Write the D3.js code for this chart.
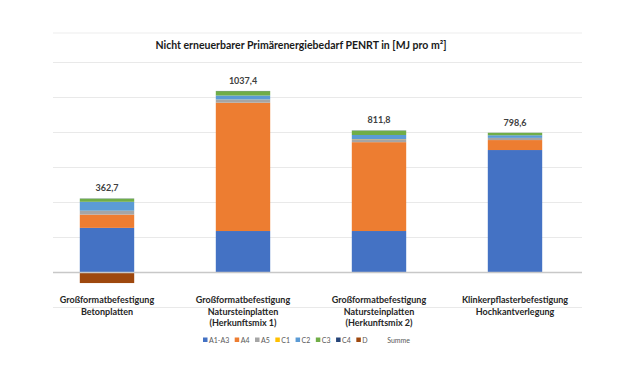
<!DOCTYPE html>
<html><head><meta charset="utf-8">
<script src="https://cdn.jsdelivr.net/npm/d3@7"></script>
<style>
body{margin:0;background:#fff;}
svg{display:block;font-family:Lato,"Open Sans",sans-serif;}
</style></head>
<body><svg id="c" width="635" height="386"></svg>
<script>
const categories = [
  ["Großformatbefestigung","Betonplatten"],
  ["Großformatbefestigung","Natursteinplatten","(Herkunftsmix 1)"],
  ["Großformatbefestigung","Natursteinplatten","(Herkunftsmix 2)"],
  ["Klinkerpflasterbefestigung","Hochkantverlegung"]
];
const seriesNames = ["A1-A3","A4","A5","C1","C2","C3","C4","D"];
const seriesColors = ["#4472C4","#ED7D31","#A5A5A5","#FFC000","#5B9BD5","#70AD47","#264478","#9E480E"];
const A1A3 = [255, 237, 237, 699.8];
const A4   = [76, 733.4, 507.8, 57];
const A5   = [21, 17, 17, 12];
const C1   = [1, 1, 1, 0.5];
const C2   = [51, 23, 23, 15];
const C3   = [18, 25, 25, 14];
const C4   = [1, 1, 1, 0.3];
const D    = [-60.3, 0, 0, 0];
const totals = [362.7, 1037.4, 811.8, 798.6];
const totalLabels = ["362,7","1037,4","811,8","798,6"];
const yTicks = [-200, 0, 200, 400, 600, 800, 1000, 1200];

const series = [A1A3, A4, A5, C1, C2, C3, C4, D];
const svg = d3.select("#c");

const x = d3.scaleBand().domain(d3.range(categories.length)).range([39, 583]).paddingInner(0.6).paddingOuter(0.3);
const y = d3.scaleLinear().domain([-200, 1200]).range([307.5, 62.5]);

// top border line
svg.append("line").attr("x1",53).attr("x2",582).attr("y1",33).attr("y2",33).attr("stroke","#e8e8e8").attr("stroke-width",0.8);

// gridlines
svg.append("g").selectAll("line").data(yTicks).join("line")
  .attr("x1",53).attr("x2",582)
  .attr("y1",d=>y(d)).attr("y2",d=>y(d))
  .attr("stroke","#e3e3e3").attr("stroke-width",0.8);

// stacked bars
const bars = svg.append("g");
categories.forEach((c,i)=>{
  let pos = 0, neg = 0;
  series.forEach((s,k)=>{
    const v = s[i];
    if (v === 0) return;
    let y0, y1;
    if (v > 0) { y0 = pos; y1 = pos + v; pos = y1; }
    else { y0 = neg; y1 = neg + v; neg = y1; }
    bars.append("rect")
      .attr("x", x(i)).attr("width", x.bandwidth())
      .attr("y", y(Math.max(y0,y1))).attr("height", Math.abs(y(y0)-y(y1)))
      .attr("fill", seriesColors[k]);
  });
  svg.append("text")
    .attr("x", x(i)+x.bandwidth()/2).attr("y", y(pos)-7)
    .attr("text-anchor","middle").attr("font-size","9px").attr("font-weight","bold")
    .attr("fill","#404040").text(totalLabels[i]);
});

// zero axis line
svg.append("line").attr("x1",53).attr("x2",582).attr("y1",y(0)).attr("y2",y(0))
  .attr("stroke","#c8c8c8").attr("stroke-width",1.6);

// category labels
categories.forEach((c,i)=>{
  const t = svg.append("text").attr("text-anchor","middle")
    .attr("font-size","9px").attr("font-weight","bold").attr("fill","#262626");
  c.forEach((line,j)=>{
    t.append("tspan").attr("x", x(i)+x.bandwidth()/2).attr("y", 303 + j*11.5).text(line);
  });
});

// title
svg.append("text").attr("x",301).attr("y",49).attr("text-anchor","middle")
  .attr("font-size","10.5px").attr("font-weight","bold").attr("fill","#1a1a1a")
  .text("Nicht erneuerbarer Primärenergiebedarf PENRT in [MJ pro m²]");

// legend
const lg = svg.append("g");
let lx = 203;
const ly = 340;
seriesNames.forEach((n,k)=>{
  lg.append("rect").attr("x",lx).attr("y",ly-2.5).attr("width",4.5).attr("height",4.5).attr("fill",seriesColors[k]);
  const t = lg.append("text").attr("x",lx+6).attr("y",ly+2.5).attr("font-size","7px").attr("fill","#595959").text(n);
  lx += 6 + t.node().getComputedTextLength() + 5.5;
});
lx += 14;
lg.append("text").attr("x",lx).attr("y",ly+2.5).attr("font-size","7px").attr("fill","#595959").text("Summe");
</script></body></html>
